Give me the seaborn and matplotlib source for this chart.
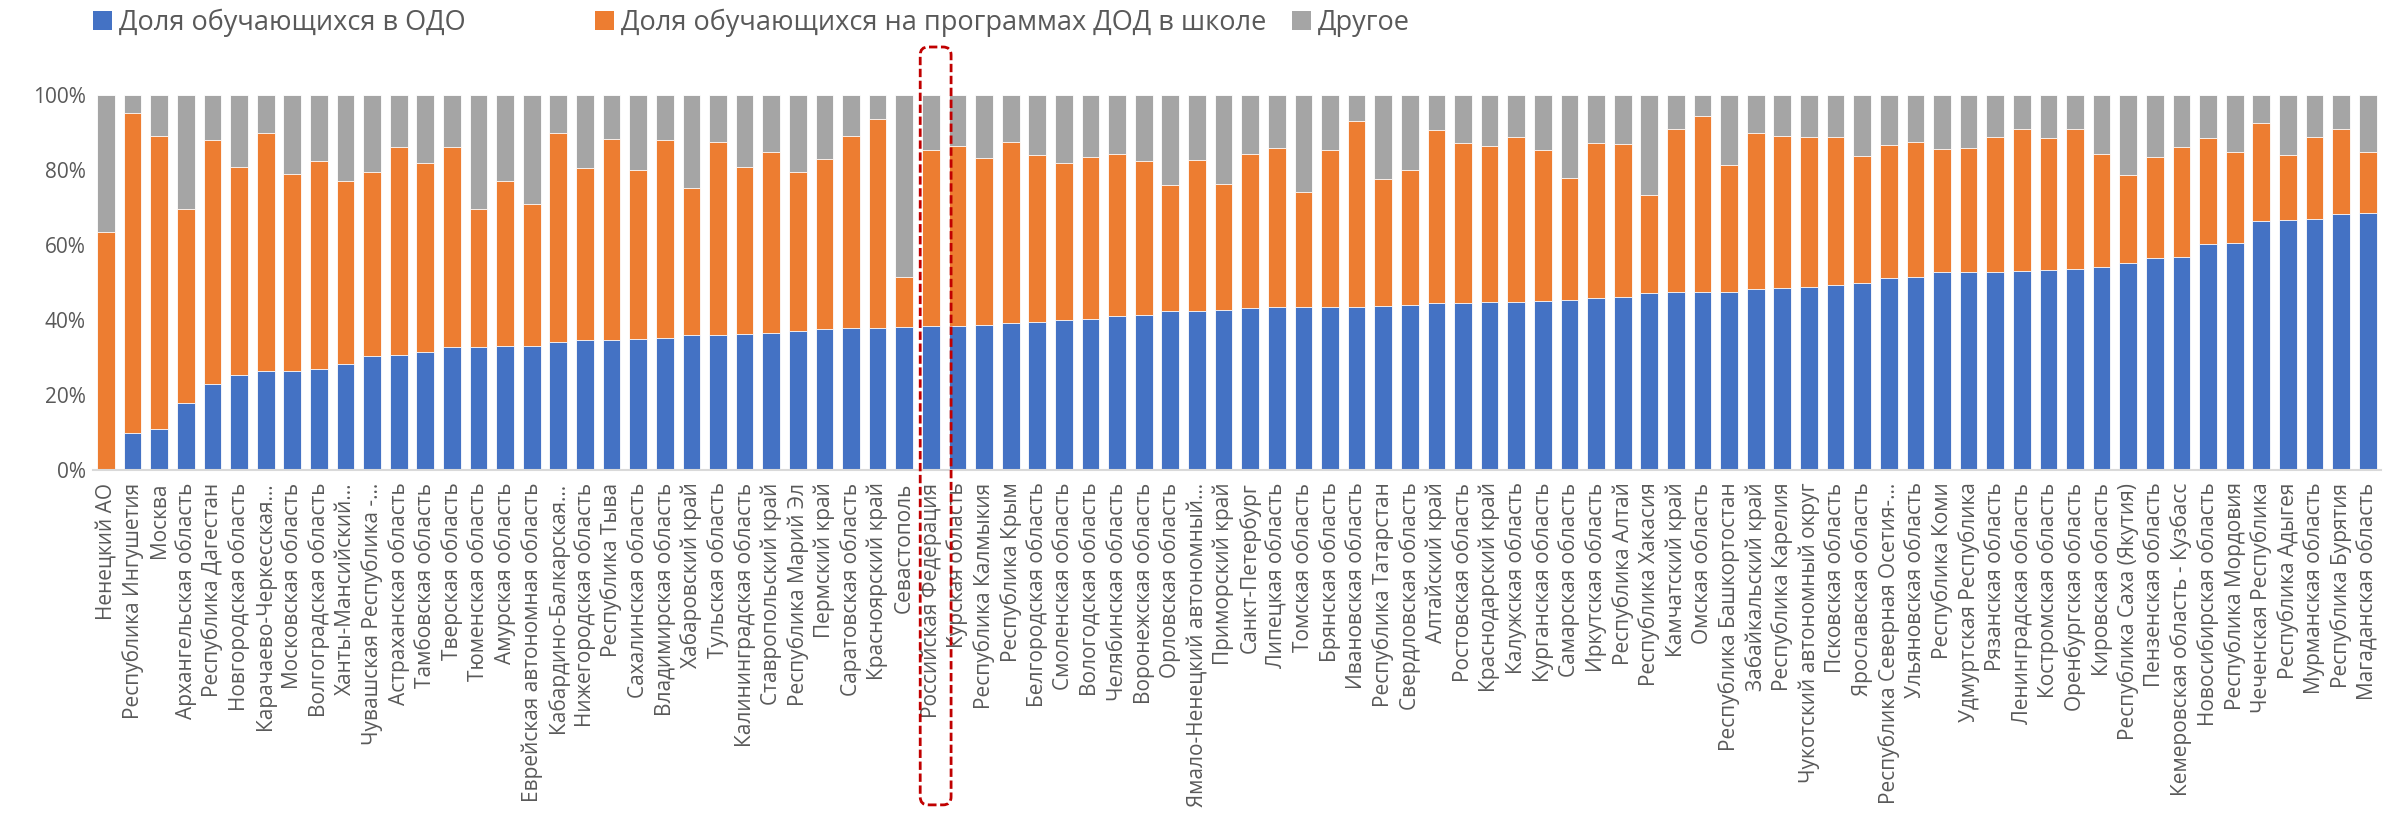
import matplotlib
matplotlib.use("Agg")
import matplotlib.pyplot as plt
from matplotlib.patches import Patch, FancyBboxPatch
import seaborn as sns
import pandas as pd
import numpy as np

regions = [
    "Ненецкий АО", "Республика Ингушетия", "Москва", "Архангельская область",
    "Республика Дагестан", "Новгородская область", "Карачаево-Черкесская…",
    "Московская область", "Волгоградская область", "Ханты-Мансийский…",
    "Чувашская Республика -…", "Астраханская область", "Тамбовская область",
    "Тверская область", "Тюменская область", "Амурская область",
    "Еврейская автономная область", "Кабардино-Балкарская…", "Нижегородская область",
    "Республика Тыва", "Сахалинская область", "Владимирская область",
    "Хабаровский край", "Тульская область", "Калининградская область",
    "Ставропольский край", "Республика Марий Эл", "Пермский край",
    "Саратовская область", "Красноярский край", "Севастополь",
    "Российская Федерация", "Курская область", "Республика Калмыкия",
    "Республика Крым", "Белгородская область", "Смоленская область",
    "Вологодская область", "Челябинская область", "Воронежская область",
    "Орловская область", "Ямало-Ненецкий автономный…", "Приморский край",
    "Санкт-Петербург", "Липецкая область", "Томская область", "Брянская область",
    "Ивановская область", "Республика Татарстан", "Свердловская область",
    "Алтайский край", "Ростовская область", "Краснодарский край",
    "Калужская область", "Курганская область", "Самарская область",
    "Иркутская область", "Республика Алтай", "Республика Хакасия",
    "Камчатский край", "Омская область", "Республика Башкортостан",
    "Забайкальский край", "Республика Карелия", "Чукотский автономный округ",
    "Псковская область", "Ярославская область", "Республика Северная Осетия-…",
    "Ульяновская область", "Республика Коми", "Удмуртская Республика",
    "Рязанская область", "Ленинградская область", "Костромская область",
    "Оренбургская область", "Кировская область", "Республика Саха (Якутия)",
    "Пензенская область", "Кемеровская область - Кузбасс", "Новосибирская область",
    "Республика Мордовия", "Чеченская Республика", "Республика Адыгея",
    "Мурманская область", "Республика Бурятия", "Магаданская область",
]

share_odo = [
    0.0, 10.0, 11.0, 18.0, 23.0, 25.3, 26.4, 26.4, 27.0, 28.4,
    30.5, 30.8, 31.5, 32.9, 32.9, 33.2, 33.2, 34.2, 34.6, 34.8,
    35.0, 35.3, 36.1, 36.1, 36.4, 36.5, 37.2, 37.5, 37.8, 38.0,
    38.2, 38.4, 38.5, 38.8, 39.3, 39.4, 39.9, 40.3, 41.2, 41.4,
    42.5, 42.5, 42.8, 43.1, 43.4, 43.4, 43.6, 43.6, 43.8, 44.1,
    44.5, 44.5, 44.8, 44.8, 45.2, 45.3, 45.8, 46.1, 47.3, 47.6,
    47.6, 47.6, 48.3, 48.6, 48.9, 49.4, 49.8, 51.3, 51.6, 52.8,
    52.8, 52.9, 53.2, 53.3, 53.6, 54.2, 55.3, 56.6, 56.8, 60.4,
    60.6, 66.3, 66.8, 67.0, 68.4, 68.6,
]

share_school_dod = [
    63.5, 85.1, 78.2, 51.5, 65.0, 55.4, 63.4, 52.6, 55.3, 48.8,
    49.1, 55.4, 50.3, 53.3, 36.7, 44.0, 37.8, 55.8, 46.0, 53.6,
    45.1, 52.8, 39.0, 51.5, 44.5, 48.2, 42.4, 45.5, 51.3, 55.5,
    13.2, 46.9, 48.0, 44.5, 48.2, 44.7, 41.9, 43.1, 43.2, 41.0,
    33.6, 40.3, 33.6, 41.3, 42.4, 30.7, 41.8, 49.6, 33.9, 36.0,
    46.3, 42.7, 41.7, 44.0, 40.1, 32.7, 41.4, 40.9, 26.0, 43.2,
    46.7, 33.7, 41.7, 40.6, 39.9, 39.4, 34.0, 35.4, 36.0, 32.7,
    33.2, 35.9, 37.7, 35.3, 37.4, 30.2, 23.5, 27.0, 29.4, 28.2,
    24.3, 26.3, 17.3, 21.9, 22.5, 16.3,
]

share_other = [
    36.5, 4.9, 10.8, 30.5, 12.0, 19.3, 10.2, 21.0, 17.7, 22.8,
    20.4, 13.8, 18.2, 13.8, 30.4, 22.8, 29.0, 10.0, 19.4, 11.6,
    19.9, 11.9, 24.9, 12.4, 19.1, 15.3, 20.4, 17.0, 10.9, 6.5,
    48.6, 14.7, 13.5, 16.7, 12.5, 15.9, 18.2, 16.6, 15.6, 17.6,
    23.9, 17.2, 23.6, 15.6, 14.2, 25.9, 14.6, 6.8, 22.3, 19.9,
    9.2, 12.8, 13.5, 11.2, 14.7, 22.0, 12.8, 13.0, 26.7, 9.2,
    5.7, 18.7, 10.0, 10.8, 11.2, 11.2, 16.2, 13.3, 12.4, 14.5,
    14.0, 11.2, 9.1, 11.4, 9.0, 15.6, 21.2, 16.4, 13.8, 11.4,
    15.1, 7.4, 15.9, 11.1, 9.1, 15.1,
]

series_names = [
    "Доля обучающихся в ОДО",
    "Доля обучающихся на программах ДОД в школе",
    "Другое",
]
y_ticks = [0, 20, 40, 60, 80, 100]
highlight = "Российская Федерация"

C_BLUE, C_ORANGE, C_GRAY = "#4472C4", "#ED7D31", "#A5A5A5"
TXT = "#595959"

df = pd.DataFrame({
    "region": regions,
    "odo": share_odo,
    "dod": share_school_dod,
    "other": share_other,
})
df["lvl2"] = df["odo"] + df["dod"]
df["lvl3"] = df["lvl2"] + df["other"]

sns.set_theme(style="white")
plt.rcParams["font.family"] = ["Open Sans", "DejaVu Sans"]

W, H = 2404, 839
fig = plt.figure(figsize=(W / 100, H / 100), dpi=100)
ax_l, ax_r, ax_t, ax_b = 92.7, 2381.0, 95.0, 470.0
ax = fig.add_axes([ax_l / W, 1 - ax_b / H, (ax_r - ax_l) / W, (ax_b - ax_t) / H])

bw = 0.665
kw = dict(ax=ax, order=regions, width=bw, errorbar=None,
          edgecolor="white", linewidth=0.6, saturation=1)
sns.barplot(data=df, x="region", y="lvl3", color=C_GRAY, **kw)
sns.barplot(data=df, x="region", y="lvl2", color=C_ORANGE, **kw)
sns.barplot(data=df, x="region", y="odo", color=C_BLUE, **kw)

ax.set_xlim(-0.5, len(regions) - 0.5)
ax.set_ylim(0, 100)
ax.set_yticks(y_ticks)
ax.set_yticklabels([f"{v}%" for v in y_ticks])
ax.set_xlabel("")
ax.set_ylabel("")
ax.tick_params(axis="x", labelrotation=90, labelsize=15, colors=TXT, pad=9, length=0)
ax.tick_params(axis="y", labelsize=15, colors=TXT, pad=5, length=0)
for lab in ax.get_xticklabels():
    lab.set_color(TXT)
for s in ["left", "top", "right"]:
    ax.spines[s].set_visible(False)
ax.spines["bottom"].set_color("#D9D9D9")
ax.spines["bottom"].set_linewidth(1.5)
ax.grid(False)

# highlight box around the Russian Federation bar and its label
i = regions.index(highlight)
axw_px = ax_r - ax_l
axh_px = ax_b - ax_t
aspect = (100 / axh_px) / (len(regions) / axw_px)
x0, x1 = i - 0.40, i + 0.76
y0, y1 = -89.3, 112.8
box = FancyBboxPatch((x0, y0), x1 - x0, y1 - y0,
                     boxstyle="round,pad=0,rounding_size=0.3",
                     mutation_aspect=aspect, fill=False,
                     edgecolor="#C00000", linewidth=2.0,
                     linestyle=(0, (3, 1.3)), clip_on=False, zorder=5)
ax.add_patch(box)

# legend: one entry per block, placed along the top
legend_x_px = [93, 595, 1292]
for name, col, lx in zip(series_names, (C_BLUE, C_ORANGE, C_GRAY), legend_x_px):
    fig.legend([Patch(facecolor=col, edgecolor="none")], [name],
               loc="upper left", bbox_to_anchor=(lx / W, 1 - 9 / H),
               frameon=False, fontsize=19.5, handlelength=0.7, handleheight=0.7,
               handletextpad=0.25, labelcolor=TXT, borderaxespad=0.0, borderpad=0.0)

fig.savefig("out.png", dpi=100, facecolor="white")
